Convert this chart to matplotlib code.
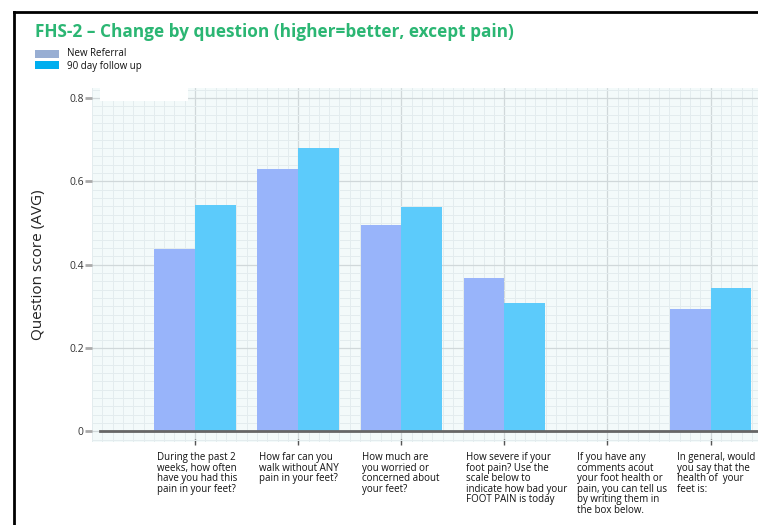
import numpy as np
import matplotlib.pyplot as plt
from matplotlib.patches import Rectangle
from matplotlib.ticker import MultipleLocator

questions = [
    "During the past 2\nweeks, how often\nhave you had this\npain in your feet?",
    "How far can you\nwalk without ANY\npain in your feet?",
    "How much are\nyou worried or\nconcerned about\nyour feet?",
    "How severe if your\nfoot pain? Use the\nscale below to\nindicate how bad your\nFOOT PAIN is today",
    "If you have any\ncomments acout\nyour foot health or\npain, you can tell us\nby writing them in\nthe box below.",
    "In general, would\nyou say that the\nhealth of  your\nfeet is:",
]
new_referral = [0.437, 0.630, 0.495, 0.368, 0.0, 0.293]
follow_up = [0.543, 0.680, 0.538, 0.308, 0.0, 0.344]
y_ticks = [0, 0.2, 0.4, 0.6, 0.8]
y_tick_labels = ["0", "0.2", "0.4", "0.6", "0.8"]

plt.rcParams['font.family'] = ['Open Sans', 'DejaVu Sans']

fig = plt.figure(figsize=(7.58, 5.25), dpi=100)
ax = fig.add_axes([92 / 758, 1 - 442 / 525, 1 - 92 / 758, (442 - 88) / 525])

x = np.arange(len(questions))
w = 0.395
ax.bar(x - w / 2, new_referral, width=w, color="#98b4fa", zorder=3)
ax.bar(x + w / 2, follow_up, width=w, color="#5ccbfb", zorder=3)

ax.set_facecolor("#f3fafa")
ax.set_xlim(-1.0, 5.46)
ax.set_ylim(-0.026, 0.824)
ax.set_xticks(x)
ax.set_xticklabels([])
ax.xaxis.set_minor_locator(MultipleLocator(0.1))
ax.set_yticks(y_ticks)
ax.set_yticklabels(y_tick_labels, fontsize=7.5, color="#333333")
ax.yaxis.set_minor_locator(MultipleLocator(0.02))
ax.grid(which="minor", color="#e3ecee", linewidth=0.7, zorder=0)
ax.grid(which="major", color="#d0d8da", linewidth=0.9, zorder=1)
ax.tick_params(axis="y", which="major", length=5, width=2, color="#aaaaaa", pad=1)
ax.tick_params(axis="x", which="major", length=4, width=1, color="#555555", direction="inout")
ax.tick_params(which="minor", length=0)
for s in ax.spines.values():
    s.set_visible(False)
ax.axhline(0, xmin=0.012, color="#666666", linewidth=2, zorder=4)
ax.set_ylabel("Question score (AVG)", fontsize=11, color="#222222")
ax.yaxis.set_label_coords(-46 / 666, 0.5)

# blank box at top-left of the plot area
ax.add_patch(Rectangle((0.012, 0.962), 0.132, 0.05, transform=ax.transAxes,
                       facecolor="white", edgecolor="none", zorder=5, clip_on=False))

label_x = [157, 259, 362, 466, 577, 677]
for px, q in zip(label_x, questions):
    fig.text(px / 758, 1 - 452 / 525, q, fontsize=7, va="top", ha="left",
             linespacing=0.95, color="#111111")

fig.text(35 / 758, 1 - 32 / 525, "FHS-2 \u2013 Change by question (higher=better, except pain)",
         fontsize=12.4, fontweight="bold", color="#2bb673", va="center", ha="left")

fig.patches.append(Rectangle((35 / 758, 1 - 58 / 525), 24 / 758, 8 / 525,
                             transform=fig.transFigure, facecolor="#98aed3", edgecolor="none"))
fig.patches.append(Rectangle((35 / 758, 1 - 69 / 525), 24 / 758, 8 / 525,
                             transform=fig.transFigure, facecolor="#00aeef", edgecolor="none"))
fig.text(67 / 758, 1 - 54 / 525, "New Referral", fontsize=7, va="center", color="#111111")
fig.text(67 / 758, 1 - 66 / 525, "90 day follow up", fontsize=7, va="center", color="#111111")

# frame lines (top and left)
fig.add_artist(plt.Line2D([14 / 758, 1], [1 - 12 / 525, 1 - 12 / 525], color="black",
                          linewidth=2, transform=fig.transFigure))
fig.add_artist(plt.Line2D([14 / 758, 14 / 758], [0, 1 - 12 / 525], color="black",
                          linewidth=2, transform=fig.transFigure))

fig.savefig("out.png", dpi=100)
